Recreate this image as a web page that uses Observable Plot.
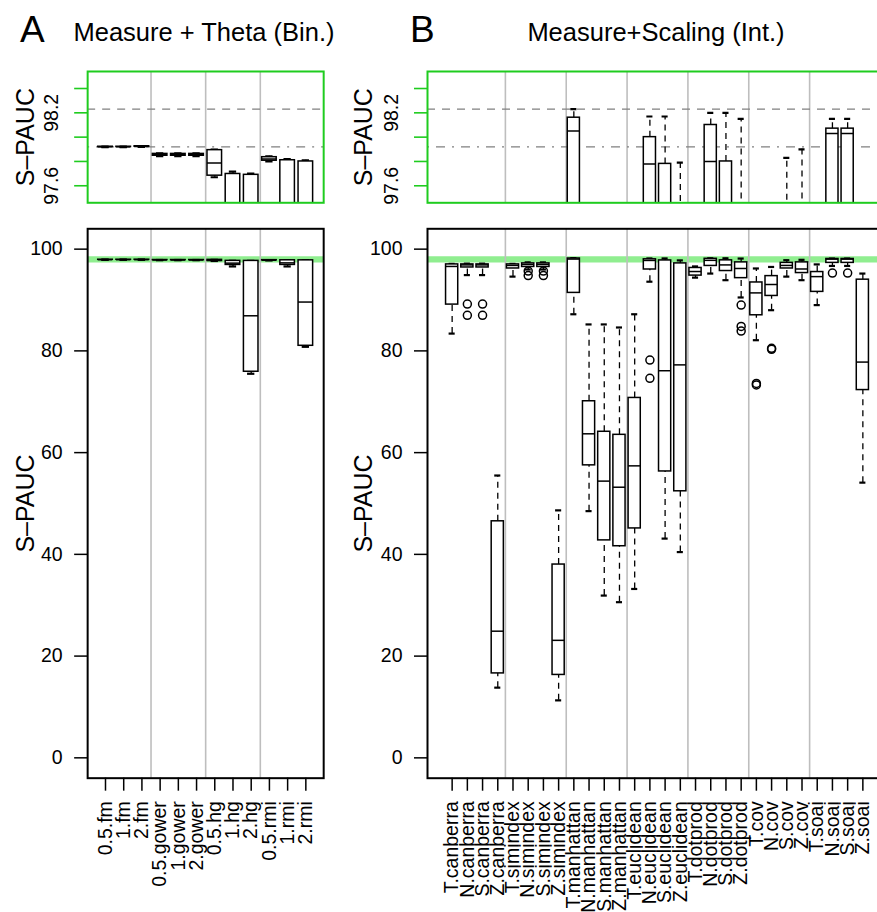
<!DOCTYPE html>
<html><head><meta charset="utf-8">
<script src="https://cdn.jsdelivr.net/npm/d3@7"></script>
<script src="https://cdn.jsdelivr.net/npm/@observablehq/plot@0.6"></script>
<style>
html,body{margin:0;padding:0;background:#fff;overflow:hidden;}
#wrap{position:relative;width:877px;height:912px;overflow:hidden;font-family:"Liberation Sans",Arial,Helvetica,sans-serif;}
#wrap > svg, #wrap > figure{position:absolute;margin:0;}
</style>
</head><body><div id="wrap"></div>
<script>
// ---------- Panel A data (Measure + Theta, binary) ----------
const catsA = ["0.5.fm","1.fm","2.fm","0.5.gower","1.gower","2.gower","0.5.hg","1.hg","2.hg","0.5.rmi","1.rmi","2.rmi"];
const lowA  = [97.918, 97.918, 97.920, 97.843, 97.843, 97.843, 97.670, 96.60, 75.5, 97.800, 96.60, 80.8];
const q1A   = [97.919, 97.919, 97.921, 97.847, 97.847, 97.847, 97.683, 96.90, 75.9, 97.806, 96.90, 81.0];
const medA  = [97.920, 97.920, 97.923, 97.855, 97.855, 97.855, 97.788, 97.25, 86.9, 97.820, 97.30, 89.6];
const q3A   = [97.921, 97.921, 97.925, 97.862, 97.862, 97.862, 97.893, 97.697, 97.69, 97.835, 97.81, 97.80];
const highA = [97.922, 97.922, 97.927, 97.866, 97.866, 97.866, 97.897, 97.716, 97.70, 97.842, 97.82, 97.81];
const sepsA = [3.5, 6.5, 9.5];

// ---------- Panel B data (Measure + Scaling, interval) ----------
const catsB = ["T.canberra","N.canberra","S.canberra","Z.canberra","T.simindex","N.simindex","S.simindex","Z.simindex",
  "T.manhattan","N.manhattan","S.manhattan","Z.manhattan","T.euclidean","N.euclidean","S.euclidean","Z.euclidean",
  "T.dotprod","N.dotprod","S.dotprod","Z.dotprod","T.cov","N.cov","S.cov","Z.cov","T.soai","N.soai","S.soai","Z.soai"];
const lowB  = [83.4, 94.9, 94.9, 13.8, 94.6, 96.0, 96.0, 11.3, 87.2, 48.5, 31.9, 30.6, 33.2, 93.6, 43.1, 40.45, 94.4, 95.2, 93.9, 90.5, 82.1, 88.0, 94.6, 93.9, 89.0, 96.7, 96.7, 54.1];
const q1B   = [89.1, 96.4, 96.4, 16.6, 96.2, 96.5, 96.5, 16.3, 91.4, 57.5, 42.75, 41.6, 45.1, 96.0, 56.3, 52.4, 94.8, 96.7, 95.7, 94.3, 87.0, 90.8, 96.2, 95.3, 91.6, 97.3, 97.3, 72.3];
const medB  = [96.6, 96.9, 96.9, 24.9, 96.8, 97.0, 97.0, 23.1, 98.05, 63.7, 54.4, 53.2, 57.4, 97.78, 76.1, 77.25, 95.6, 97.8, 96.9, 96.2, 91.4, 93.05, 96.8, 96.1, 94.6, 98.03, 98.03, 77.8];
const q3B   = [97.0, 97.0, 97.0, 46.5, 97.0, 97.2, 97.2, 38.0, 98.16, 70.1, 64.1, 63.5, 70.75, 98.0, 97.78, 97.2, 96.3, 98.1, 97.8, 97.4, 93.45, 94.7, 97.3, 97.4, 95.5, 98.07, 98.07, 94.0];
const highB = [97.1, 97.15, 97.15, 55.5, 97.1, 97.4, 97.4, 48.65, 98.23, 85.2, 85.2, 84.6, 87.2, 98.17, 98.17, 97.79, 96.6, 98.2, 98.2, 98.15, 96.2, 96.5, 97.83, 97.9, 97.0, 98.15, 98.15, 95.2];
const outCatB = [2, 2, 3, 3, 6, 6, 7, 7, 14, 14, 20, 20, 20, 21, 21, 22, 22, 26, 27];
const outValB = [89.2, 87.0, 89.2, 87.0, 95.7, 94.8, 95.7, 94.8, 78.2, 74.6, 89.0, 84.8, 83.9, 73.6, 73.3, 80.5, 80.3, 95.3, 95.3];
const sepsB = [4.5, 8.5, 12.5, 16.5, 20.5, 24.5];

// ---------- reference values / axes ----------
const zoomDomain = [97.46, 98.54];
const zoomTicks = [97.6, 97.8, 98.0, 98.2, 98.4];
const zoomLabels = [97.6, 98.2];
const bestLine = 98.23;
const binLine = 97.92;
const fullDomain = [-4, 104];
const fullTicks = [0, 20, 40, 60, 80, 100];
const bandValue = 98;

const FONT = "Liberation Sans, Arial, Helvetica, sans-serif";
const GREEN = "#1fcc1f";
const wrap = document.getElementById("wrap");

function rowsOf(cats, lo, q1, md, q3, hi) {
  return cats.map((c, k) => ({i: k + 1, name: c, lw: lo[k], q1: q1[k], med: md[k], q3: q3[k], hw: hi[k]}));
}
const rowsA = rowsOf(catsA, lowA, q1A, medA, q3A, highA);
const rowsB = rowsOf(catsB, lowB, q1B, medB, q3B, highB);
const outsA = [];
const outsB = outCatB.map((c, k) => ({i: c, v: outValB[k]}));

function boxMarks(rows, outs, clip) {
  const hw = 0.4, cw = 0.2;
  return [
    Plot.ruleX(rows, {x: "i", y1: "q3", y2: "hw", stroke: "#000", strokeWidth: 1.3, strokeDasharray: "6,5", clip}),
    Plot.ruleX(rows, {x: "i", y1: "lw", y2: "q1", stroke: "#000", strokeWidth: 1.3, strokeDasharray: "6,5", clip}),
    Plot.ruleY(rows, {y: "hw", x1: d => d.i - cw, x2: d => d.i + cw, stroke: "#000", strokeWidth: 2.2, clip}),
    Plot.ruleY(rows, {y: "lw", x1: d => d.i - cw, x2: d => d.i + cw, stroke: "#000", strokeWidth: 2.2, clip}),
    Plot.rect(rows, {x1: d => d.i - hw, x2: d => d.i + hw, y1: "q1", y2: "q3", fill: "white", stroke: "#000", strokeWidth: 1.5, clip}),
    Plot.ruleY(rows, {y: "med", x1: d => d.i - hw, x2: d => d.i + hw, stroke: "#000", strokeWidth: 1.5, clip}),
    Plot.dot(outs, {x: "i", y: "v", r: 4, stroke: "#000", strokeWidth: 1.5, fill: "none", clip})
  ];
}

function xDomainFor(n) { const e = 0.04 * n; return [0.5 - e, n + 0.5 + e]; }

function topPanel({rows, outs, seps, n, frameW, marginLeft, titleDx}) {
  return Plot.plot({
    width: marginLeft + frameW + 10, height: 71 + 131.3 + 6,
    marginLeft, marginRight: 10, marginTop: 71, marginBottom: 6,
    x: {domain: xDomainFor(n), axis: null, label: null},
    y: {domain: zoomDomain, axis: null, label: null},
    style: {fontFamily: FONT, fontSize: "19.5px", color: "#000", background: "transparent", overflow: "visible"},
    marks: [
      Plot.ruleX(seps, {stroke: "#bebebe", strokeWidth: 1.6}),
      Plot.ruleY([bestLine], {stroke: "#808080", strokeWidth: 1.3, strokeDasharray: "8,7"}),
      Plot.ruleY([binLine], {stroke: "#808080", strokeWidth: 1.3, strokeDasharray: "2,7,9,7"}),
      ...boxMarks(rows, outs, true),
      Plot.frame({stroke: GREEN, strokeWidth: 2}),
      Plot.axisY({ticks: zoomTicks, tickSize: 13, tickFormat: () => "", label: null, stroke: GREEN, strokeWidth: 1.6}),
      Plot.text(zoomLabels, {y: d => d, text: d => d.toFixed(1), frameAnchor: "left", textAnchor: "middle", rotate: -90, dx: -29.5, lineAnchor: "bottom", fontSize: 19.5}),
      Plot.text(["S–PAUC"], {frameAnchor: "left", textAnchor: "middle", rotate: -90, dx: titleDx, lineAnchor: "bottom", fontSize: 25})
    ]
  });
}

function bottomPanel({rows, outs, seps, n, frameW, marginLeft, cats, titleDx}) {
  return Plot.plot({
    width: marginLeft + frameW + 10, height: 8.3 + 549.4 + 134.3,
    marginLeft, marginRight: 10, marginTop: 8.3, marginBottom: 134.3,
    x: {domain: xDomainFor(n), axis: null, label: null},
    y: {domain: fullDomain, axis: null, label: null},
    style: {fontFamily: FONT, fontSize: "19.5px", color: "#000", background: "transparent", overflow: "visible"},
    marks: [
      Plot.ruleY([bandValue], {stroke: "#90ee90", strokeWidth: 6.3}),
      Plot.ruleX(seps, {stroke: "#bebebe", strokeWidth: 1.6}),
      ...boxMarks(rows, outs, false),
      Plot.frame({stroke: "#000", strokeWidth: 2}),
      Plot.axisY({ticks: fullTicks, tickSize: 13, tickPadding: 12, label: null, fontSize: 19.5, strokeWidth: 1.5}),
      Plot.axisX({ticks: d3.range(1, n + 1), tickFormat: i => cats[i - 1], label: null, tickRotate: -90, tickSize: 13, tickPadding: 10, fontSize: 19.5, strokeWidth: 1.5}),
      Plot.text(["S–PAUC"], {frameAnchor: "left", textAnchor: "middle", rotate: -90, dx: titleDx, lineAnchor: "bottom", fontSize: 25})
    ]
  });
}

function place(node, left, top) {
  node.style.position = "absolute";
  node.style.left = left + "px";
  node.style.top = top + "px";
  wrap.appendChild(node);
}

const frameWA = 236.05, frameWB = 460.0;
place(topPanel({rows: rowsA, outs: outsA, seps: sepsA, n: catsA.length, frameW: frameWA, marginLeft: 87.15, titleDx: -54}), 0, 0);
place(bottomPanel({rows: rowsA, outs: outsA, seps: sepsA, n: catsA.length, frameW: frameWA, marginLeft: 87.15, cats: catsA, titleDx: -54}), 0, 220);
place(topPanel({rows: rowsB, outs: outsB, seps: sepsB, n: catsB.length, frameW: frameWB, marginLeft: 87, titleDx: -56}), 340, 0);
place(bottomPanel({rows: rowsB, outs: outsB, seps: sepsB, n: catsB.length, frameW: frameWB, marginLeft: 87, cats: catsB, titleDx: -56}), 340, 220);

// titles
const titles = d3.create("svg").attr("width", 877).attr("height", 60)
  .style("position", "absolute").style("left", "0px").style("top", "0px")
  .style("font-family", FONT).style("pointer-events", "none");
titles.append("text").attr("x", 20).attr("y", 41.5).attr("font-size", 37).text("A");
titles.append("text").attr("x", 204).attr("y", 40.7).attr("font-size", 25.5).attr("text-anchor", "middle").text("Measure + Theta (Bin.)");
titles.append("text").attr("x", 410).attr("y", 41.5).attr("font-size", 37).text("B");
titles.append("text").attr("x", 656).attr("y", 40.7).attr("font-size", 25.5).attr("text-anchor", "middle").text("Measure+Scaling (Int.)");
wrap.appendChild(titles.node());
</script>
</body></html>
